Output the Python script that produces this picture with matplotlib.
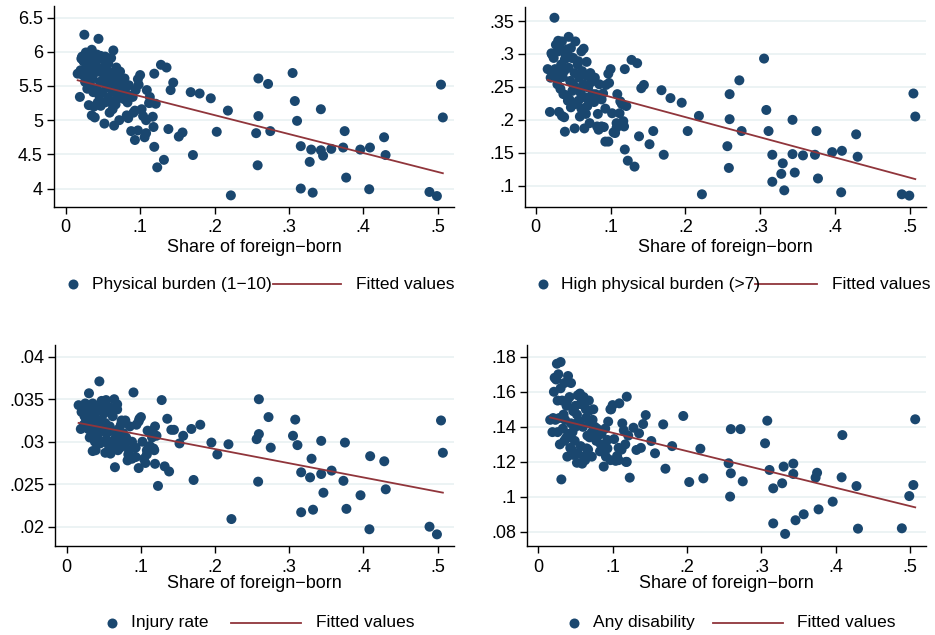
import matplotlib
matplotlib.use("Agg")
import matplotlib.pyplot as plt
from matplotlib.lines import Line2D
import numpy as np

plt.rcParams['font.family'] = ['Liberation Sans', 'DejaVu Sans']

# Share of foreign-born (shared by all four panels)
share_foreign = [
    # sparse, higher-share areas
    .119, .119, .123, .128, .132, .1355, .138, .141, .1445, .152,
    .157, .168, .171, .180, .195, .203, .218, .222, .256, .258,
    .259, .259, .272, .275, .305, .308, .311, .316, .316, .328,
    .330, .332, .343, .343, .346, .357, .373, .375, .377, .396,
    .408, .409, .428, .430, .489, .499, .5045, .507,
    # low-share areas
    .025, .044, .030, .064, .053, .021, .068, .016, .019, .039,
    .035, .052, .065, .072, .031, .038, .088, .093, .097, .106,
    .108, .100, .097, .109, .113, .121, .117, .108, .102, .093,
    .082, .084, .090, .094, .098, .112, .118, .022, .024, .026,
    .028, .030, .032, .034, .036, .038, .040, .042, .044, .046,
    .048, .050, .052, .054, .056, .058, .060, .062, .064, .066,
    .068, .070, .072, .074, .076, .078, .026, .029, .033, .037,
    .041, .045, .049, .053, .057, .061, .063, .067, .069, .059,
    .047, .043, .023, .020, .027, .035, .039, .047, .057, .061,
    .073, .080, .085, .088, .079, .083, .091, .104, .115, .050,
]

physical_burden = [
    5.68, 4.61, 4.31, 5.81, 4.42, 5.77, 4.87, 5.44, 5.55, 4.76,
    4.82, 5.41, 4.49, 5.39, 5.32, 4.83, 5.14, 3.90, 4.81, 4.34,
    5.61, 5.06, 5.53, 4.84, 5.69, 5.28, 4.99, 4.62, 4.00, 4.39,
    4.57, 3.94, 5.16, 4.56, 4.48, 4.58, 4.60, 4.84, 4.16, 4.57,
    3.99, 4.60, 4.75, 4.49, 3.95, 3.89, 5.52, 5.04,
    6.25, 6.19, 5.98, 6.02, 5.93, 5.90, 5.77, 5.68, 5.34, 5.04,
    5.07, 4.95, 4.92, 5.00, 5.22, 5.20, 4.84, 4.71, 4.85, 4.75,
    4.81, 5.66, 5.60, 5.44, 5.34, 5.24, 5.05, 5.00, 5.16, 5.14,
    5.07, 5.03, 5.34, 5.44, 5.52, 5.25, 4.90, 5.93, 5.86, 5.73,
    5.66, 5.81, 5.91, 5.76, 5.61, 5.69, 5.83, 5.96, 5.71, 5.56,
    5.76, 5.89, 5.66, 5.51, 5.73, 5.61, 5.46, 5.69, 5.56, 5.41,
    5.63, 5.51, 5.36, 5.56, 5.46, 5.31, 5.56, 5.46, 5.51, 5.41,
    5.46, 5.36, 5.41, 5.26, 5.33, 5.26, 5.16, 5.23, 5.31, 5.11,
    5.21, 5.26, 5.66, 5.73, 5.99, 6.03, 5.89, 5.94, 5.83, 5.91,
    5.71, 5.41, 5.51, 5.36, 5.61, 5.26, 5.11, 5.06, 5.26, 5.59,
]

high_burden = [
    .277, .155, .138, .291, .129, .286, .175, .248, .253, .163,
    .183, .245, .147, .233, .226, .183, .206, .087, .160, .127,
    .239, .201, .260, .183, .293, .215, .183, .147, .106, .118,
    .134, .093, .200, .148, .120, .146, .147, .183, .111, .151,
    .090, .153, .178, .144, .087, .085, .240, .205,
    .355, .326, .320, .308, .319, .301, .288, .277, .212, .182,
    .206, .187, .187, .195, .212, .204, .190, .167, .167, .180,
    .188, .277, .270, .239, .228, .221, .198, .195, .210, .217,
    .190, .185, .240, .253, .256, .210, .190, .299, .294, .277,
    .269, .304, .309, .284, .265, .274, .299, .307, .279, .259,
    .294, .294, .271, .249, .284, .264, .241, .274, .254, .234,
    .267, .249, .234, .257, .239, .227, .264, .254, .247, .239,
    .237, .231, .244, .224, .229, .217, .214, .209, .221, .205,
    .219, .229, .271, .264, .314, .319, .292, .309, .289, .304,
    .271, .239, .254, .231, .264, .209, .189, .181, .224, .254,
]

injury_rate = [
    .0318, .0274, .0248, .0349, .0271, .0327, .0265, .0314, .0314, .0298,
    .0307, .0315, .0255, .0320, .0299, .0285, .0297, .0209, .0303, .0253,
    .0350, .0309, .0329, .0293, .0307, .0326, .0296, .0264, .0217, .0258,
    .0280, .0220, .0301, .0262, .0240, .0266, .0254, .0299, .0221, .0237,
    .0197, .0283, .0277, .0244, .0200, .0191, .0325, .0287,
    .0345, .0371, .0357, .0350, .0349, .0342, .0344, .0343, .0315, .0290,
    .0289, .0287, .0270, .0293, .0305, .0300, .0280, .0282, .0269, .0275,
    .0285, .0329, .0324, .0313, .0310, .0307, .0292, .0290, .0300, .0293,
    .0278, .0290, .0358, .0320, .0327, .0295, .0290, .0335, .0330, .0326,
    .0322, .0338, .0332, .0328, .0318, .0334, .0340, .0336, .0325, .0315,
    .0340, .0333, .0322, .0310, .0336, .0318, .0300, .0330, .0312, .0305,
    .0338, .0315, .0300, .0325, .0310, .0296, .0320, .0315, .0308, .0312,
    .0305, .0298, .0318, .0302, .0295, .0298, .0292, .0294, .0290, .0286,
    .0300, .0310, .0320, .0335, .0340, .0345, .0338, .0348, .0341, .0336,
    .0320, .0305, .0318, .0300, .0325, .0285, .0282, .0280, .0305, .0322,
]

any_disability = [
    .1572, .1200, .1110, .1395, .1268, .1363, .1280, .1416, .1467, .1319,
    .1249, .1414, .1161, .1290, .1462, .1085, .1275, .1106, .1192, .1002,
    .1387, .1135, .1387, .1089, .1306, .1435, .1154, .1049, .0849, .1078,
    .1173, .0789, .1190, .1131, .0867, .0901, .1110, .1138, .0929, .0973,
    .1112, .1353, .1062, .0819, .0821, .1005, .1068, .1443,
    .176, .165, .177, .150, .158, .160, .155, .144, .137, .123,
    .132, .1195, .1277, .123, .110, .134, .1173, .1277, .121, .1234,
    .121, .1524, .150, .1534, .142, .135, .130, .128, .133, .1325,
    .136, .130, .139, .143, .150, .127, .120, .168, .167, .155,
    .145, .162, .155, .147, .144, .152, .169, .157, .142, .137,
    .149, .152, .147, .143, .159, .154, .140, .152, .145, .135,
    .149, .142, .137, .150, .140, .132, .137, .130, .139, .133,
    .136, .127, .132, .125, .129, .123, .121, .127, .134, .119,
    .124, .128, .144, .145, .170, .165, .155, .149, .153, .157,
    .144, .135, .136, .128, .139, .126, .123, .1206, .138, .140,
]

x_ticks = [0, .1, .2, .3, .4, .5]
x_tick_labels = ["0", ".1", ".2", ".3", ".4", ".5"]

panels = [
    dict(y=physical_burden, label="Physical burden (1\u221210)",
         yticks=[4, 4.5, 5, 5.5, 6, 6.5],
         yticklabels=["4", "4.5", "5", "5.5", "6", "6.5"],
         ylim=(3.73, 6.67), xlim=(-0.0158, 0.522),
         rect=(54, 6, 454, 207), xlab_y=248,
         leg=dict(y=284, mk=72.7, txt=91.7, l0=273, l1=340.7, fit=356)),
    dict(y=high_burden, label="High physical burden (>7)",
         yticks=[.1, .15, .2, .25, .3, .35],
         yticklabels=[".1", ".15", ".2", ".25", ".3", ".35"],
         ylim=(0.0677, 0.3713), xlim=(-0.0143, 0.5213),
         rect=(525, 7, 926, 207), xlab_y=248,
         leg=dict(y=284, mk=542.7, txt=561, l0=755, l1=816.7, fit=831.7)),
    dict(y=injury_rate, label="Injury rate",
         yticks=[.02, .025, .03, .035, .04],
         yticklabels=[".02", ".025", ".03", ".035", ".04"],
         ylim=(0.01773, 0.04138), xlim=(-0.0158, 0.522),
         rect=(55, 345, 454, 546), xlab_y=584,
         leg=dict(y=622.7, mk=111.7, txt=131, l0=231, l1=301, fit=316)),
    dict(y=any_disability, label="Any disability",
         yticks=[.08, .1, .12, .14, .16, .18],
         yticklabels=[".08", ".1", ".12", ".14", ".16", ".18"],
         ylim=(0.0720, 0.1867), xlim=(-0.0152, 0.5215),
         rect=(527, 345, 926, 546), xlab_y=584,
         leg=dict(y=622.7, mk=574, txt=593.3, l0=713.3, l1=782.7, fit=797.3)),
]

W, H = 935, 635
NAVY = "#1a476f"
MAROON = "#90353b"
GRID = "#eaf2f3"
FS = 13
FS_LEG = 12.5
MS = 7.2

fig = plt.figure(figsize=(W / 100, H / 100), dpi=100)
fig.patch.set_facecolor("white")


def fx(px):
    return px / W


def fy(py):
    return 1 - py / H


x = np.array(share_foreign)
for p in panels:
    l, t, r, b = p["rect"]
    ax = fig.add_axes([fx(l), fy(b), (r - l) / W, (b - t) / H])
    y = np.array(p["y"])

    ax.scatter(x, y, s=MS ** 2, color=NAVY, edgecolors="none", zorder=3)

    # linear fit across the observed range of x
    slope, intercept = np.polyfit(x, y, 1)
    xs = np.array([x.min(), x.max()])
    ax.plot(xs, intercept + slope * xs, color=MAROON, lw=1.3, zorder=4)

    ax.set_xlim(*p["xlim"])
    ax.set_ylim(*p["ylim"])
    ax.set_xticks(x_ticks)
    ax.set_xticklabels(x_tick_labels)
    ax.set_yticks(p["yticks"])
    ax.set_yticklabels(p["yticklabels"])
    ax.tick_params(axis="both", labelsize=FS, length=5, width=1,
                   color="black", direction="out")
    ax.tick_params(axis="y", pad=3)
    ax.tick_params(axis="x", pad=4)
    for s in ("top", "right"):
        ax.spines[s].set_visible(False)
    for s in ("left", "bottom"):
        ax.spines[s].set_linewidth(1)
        ax.spines[s].set_color("black")
    ax.grid(axis="y", color=GRID, lw=1.3, zorder=0)
    ax.set_axisbelow(True)

    ax.set_xlabel("Share of foreign\u2212born", fontsize=FS, va="center")
    ax.xaxis.set_label_coords(0.5, (b - p["xlab_y"]) / (b - t))

    lg = p["leg"]
    fig.add_artist(Line2D([fx(lg["mk"])], [fy(lg["y"])], marker="o",
                          markersize=MS, color=NAVY, markeredgewidth=0,
                          linestyle="none", transform=fig.transFigure))
    fig.text(fx(lg["txt"]), fy(lg["y"]), p["label"], fontsize=FS_LEG,
             va="center", ha="left")
    fig.add_artist(Line2D([fx(lg["l0"]), fx(lg["l1"])], [fy(lg["y"])] * 2,
                          color=MAROON, lw=1.3, transform=fig.transFigure))
    fig.text(fx(lg["fit"]), fy(lg["y"]), "Fitted values", fontsize=FS_LEG,
             va="center", ha="left")

fig.savefig("out.png", dpi=100, facecolor="white")
